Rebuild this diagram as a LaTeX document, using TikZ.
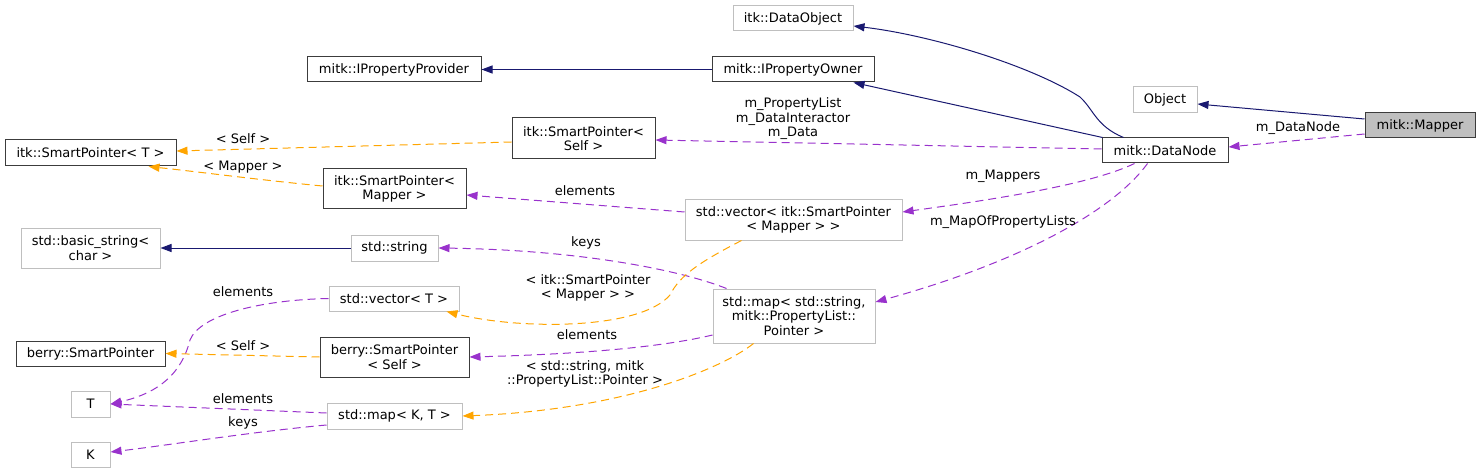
\documentclass[tikz,border=0pt]{standalone}
\usepackage{fontspec}
\setmainfont{DejaVu Sans}
\usetikzlibrary{arrows.meta}
\definecolor{navy}{RGB}{25,25,112}
\definecolor{orchid}{RGB}{153,50,204}
\definecolor{orng}{RGB}{255,165,0}
\definecolor{lgray}{RGB}{191,191,191}
\definecolor{dgray}{RGB}{60,60,60}
\tikzset{
  cbox/.style={draw=dgray, line width=1pt, inner sep=0pt, align=center, font=\fontsize{13}{14.5}\selectfont},
  gbox/.style={cbox, draw=lgray},
  lbl/.style={inner sep=0pt, align=center, font=\fontsize{13}{14.5}\selectfont},
  inh/.style={draw=navy, line width=1pt, arrows={-{Triangle[length=11pt,width=8pt,fill=navy]}}},
  use/.style={draw=orchid, line width=1pt, dash pattern=on 8pt off 5pt, arrows={-{Triangle[length=11pt,width=8pt,fill=orchid]}}},
  tmpl/.style={draw=orng, line width=1pt, dash pattern=on 8pt off 5pt, arrows={-{Triangle[length=11pt,width=8pt,fill=orng]}}},
}
\begin{document}
\begin{tikzpicture}[x=1pt,y=-1pt]
\useasboundingbox (0,0) rectangle (1480,473);
% nodes
\node[cbox, minimum width=174pt, minimum height=25pt] (prov) at (394,69.5) {mitk::IPropertyProvider};
\node[gbox, minimum width=120pt, minimum height=25pt] (dobj) at (793,18.5) {itk::DataObject};
\node[cbox, minimum width=162pt, minimum height=25pt] (owner) at (793,69.5) {mitk::IPropertyOwner};
\node[gbox, minimum width=64pt, minimum height=26pt] (obj) at (1165,100) {Object};
\node[cbox, fill=lgray, minimum width=110pt, minimum height=25pt] (mapper) at (1420,125.5) {mitk::Mapper};
\node[cbox, minimum width=126pt, minimum height=25pt] (dnode) at (1165,150.5) {mitk::DataNode};
\node[cbox, minimum width=171pt, minimum height=26pt] (spT) at (90.5,153) {itk::SmartPointer< T >};
\node[cbox, minimum width=143pt, minimum height=41pt] (spSelf) at (583.5,138.5) {itk::SmartPointer<\\Self >};
\node[cbox, minimum width=143pt, minimum height=40pt] (spMapper) at (394.5,189) {itk::SmartPointer<\\Mapper >};
\node[gbox, minimum width=217pt, minimum height=40pt] (vecSP) at (793.5,220) {std::vector< itk::SmartPointer\\< Mapper > >};
\node[gbox, minimum width=139pt, minimum height=40pt] (bstr) at (90.5,248) {std::basic\_string<\\char >};
\node[gbox, minimum width=87pt, minimum height=26pt] (str) at (394.5,248) {std::string};
\node[gbox, minimum width=130pt, minimum height=25pt] (vecT) at (394,298.5) {std::vector< T >};
\node[gbox, minimum width=162pt, minimum height=54pt] (map) at (794,316) {std::map< std::string,\\mitk::PropertyList::\\Pointer >};
\node[cbox, minimum width=149pt, minimum height=25pt] (berry) at (90.5,353.5) {berry::SmartPointer};
\node[cbox, minimum width=149pt, minimum height=40pt] (berrySelf) at (394.5,357) {berry::SmartPointer\\< Self >};
\node[gbox, minimum width=39pt, minimum height=26pt] (T) at (90.5,404) {T};
\node[gbox, minimum width=135pt, minimum height=26pt] (mapKT) at (394.5,416) {std::map< K, T >};
\node[gbox, minimum width=39pt, minimum height=25pt] (K) at (90.5,454.5) {K};
% inheritance edges
\draw[inh] (owner.west) -- (prov.east);
\draw[inh] ([xshift=1pt]dnode.north west) -- ([xshift=-21pt]owner.south east);
\draw[inh] ([xshift=22pt]dnode.north west) .. controls (1096,126) and (1094,110) .. (1080,97) .. controls (1030,65) and (930,35) .. ([yshift=-7.5pt]dobj.east);
\draw[inh] ([yshift=6.5pt]mapper.west) -- ([yshift=-4pt]obj.east);
\draw[inh] (str.west) -- (bstr.east);
% usage edges
\draw[use] ([yshift=-8.5pt]mapper.west) -- ([yshift=3.5pt]dnode.east);
\draw[use] ([yshift=1.5pt]dnode.west) -- ([yshift=-1.5pt]spSelf.east);
\draw[use] ([yshift=8pt]vecSP.west) -- ([yshift=-6pt]spMapper.east);
\draw[use] ([xshift=33pt]dnode.south west) .. controls (1090,185) and (990,200) .. ([yshift=8pt]vecSP.east);
\draw[use] ([xshift=46pt]dnode.south west) .. controls (1110,215) and (1010,265) .. ([yshift=14pt]map.east);
\draw[use] ([xshift=14pt]map.north west) .. controls (680,270) and (580,250) .. (str.east);
\draw[use] ([yshift=-19pt]map.west) .. controls (650,350) and (550,355) .. (berrySelf.east);
\draw[use] (vecT.west) .. controls (260,300) and (200,315) .. (190,340) .. controls (180,380) and (150,395) .. (T.east);
\draw[use] ([yshift=3pt]mapKT.west) -- (T.east);
\draw[use] ([yshift=-9pt]mapKT.west) .. controls (250,432) and (170,445) .. ([yshift=2.5pt]K.east);
% template edges
\draw[tmpl] ([yshift=-3.5pt]spSelf.west) -- ([yshift=2pt]spT.east);
\draw[tmpl] ([yshift=3pt]spMapper.west) .. controls (260,180) and (200,172) .. ([xshift=-28pt]spT.south east);
\draw[tmpl] ([xshift=57pt]vecSP.south west) .. controls (700,262) and (680,275) .. (670,295) .. controls (640,330) and (520,330) .. ([xshift=-13pt]vecT.south east);
\draw[tmpl] (berrySelf.west) -- (berry.east);
\draw[tmpl] ([xshift=41pt]map.south west) .. controls (720,370) and (620,410) .. (mapKT.east);
% labels
\node[lbl] (lDataNode) at (1298,128) {m\_DataNode};
\node[lbl] (lProps) at (793,119) {m\_PropertyList\\m\_DataInteractor\\m\_Data};
\node[lbl] (lSelfA) at (243,139) {< Self >};
\node[lbl] (lMapper) at (243,167) {< Mapper >};
\node[lbl] (lElemA) at (585,191) {elements};
\node[lbl] (lMappers) at (1003,176) {m\_Mappers};
\node[lbl] (lMapOf) at (1003,222) {m\_MapOfPropertyLists};
\node[lbl] (lKeysA) at (586,243) {keys};
\node[lbl] (lSPM) at (588,288) {< itk::SmartPointer\\< Mapper > >};
\node[lbl] (lElemB) at (587,335) {elements};
\node[lbl] (lStrPL) at (585,374) {< std::string, mitk\\::PropertyList::Pointer >};
\node[lbl] (lElemC) at (243,292) {elements};
\node[lbl] (lSelfB) at (243,346) {< Self >};
\node[lbl] (lElemD) at (243,399) {elements};
\node[lbl] (lKeysB) at (243,423) {keys};
\end{tikzpicture}
\end{document}
